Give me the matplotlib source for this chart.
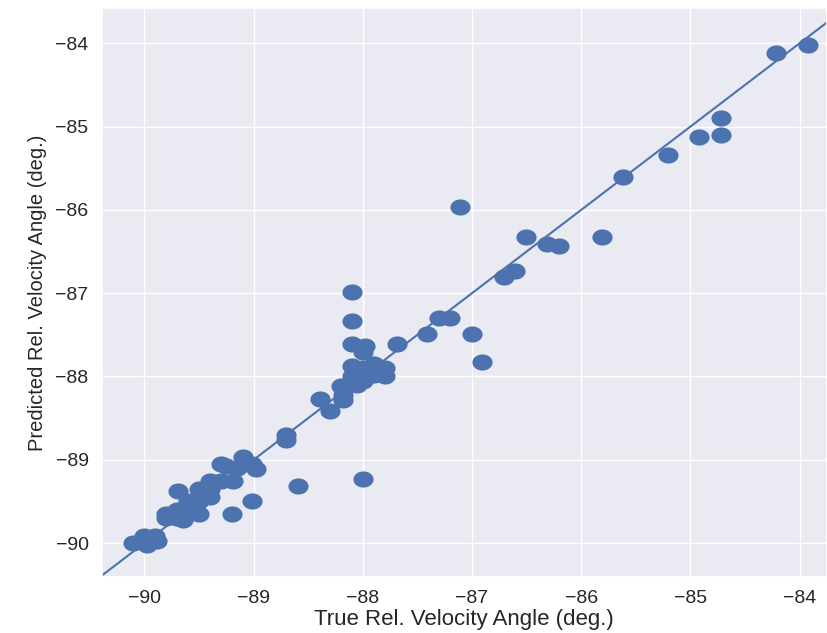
import numpy as np
import matplotlib
matplotlib.use("Agg")
import matplotlib.pyplot as plt
from matplotlib.path import Path
import seaborn as sns

# 真値と予測値 (deg.)
true_angle = [-83.92, -84.22, -84.72, -84.72, -84.92, -85.21, -85.62, -85.81, -87.11, -86.51,
              -86.31, -86.20, -86.61, -86.71, -87.30, -87.20, -87.41, -87.00, -86.91, -87.69,
              -88.10, -88.10, -88.10, -87.98, -88.00, -88.10, -88.10, -88.00, -87.90, -87.80,
              -87.80, -87.90, -88.00, -88.05, -88.20, -88.18, -88.18, -88.39, -88.30, -88.00,
              -88.70, -88.70, -88.59, -89.01, -89.20, -89.69, -89.30, -89.10, -89.10, -89.01,
              -88.98, -89.19, -89.30, -89.40, -89.40, -89.50, -89.45, -89.50, -89.60, -89.55,
              -89.60, -89.70, -89.70, -89.80, -89.80, -89.65, -89.50, -89.40, -90.10, -90.00,
              -89.98, -89.88, -89.90, -89.25, -89.15]
pred_angle = [-84.02, -84.12, -84.90, -85.10, -85.12, -85.34, -85.61, -86.33, -85.97, -86.33,
              -86.41, -86.43, -86.73, -86.80, -87.30, -87.30, -87.49, -87.49, -87.83, -87.61,
              -86.99, -87.33, -87.61, -87.63, -87.70, -87.88, -88.00, -87.90, -87.85, -87.90,
              -88.00, -87.98, -88.05, -88.10, -88.12, -88.22, -88.28, -88.27, -88.41, -89.23,
              -88.70, -88.76, -89.31, -89.50, -89.65, -89.37, -89.05, -88.97, -89.05, -89.05,
              -89.11, -89.25, -89.25, -89.25, -89.35, -89.35, -89.45, -89.50, -89.50, -89.60,
              -89.65, -89.60, -89.70, -89.70, -89.65, -89.72, -89.65, -89.45, -90.00, -89.92,
              -90.02, -89.98, -89.92, -89.08, -89.10]

xlim = (-90.39, -83.75)
ylim = (-90.41, -83.58)

sns.set_theme(style="darkgrid")
plt.rcParams['font.family'] = ['Liberation Sans', 'DejaVu Sans']

# 横長の楕円マーカー
th = np.linspace(0, 2 * np.pi, 60)
ellipse = Path(np.column_stack([np.cos(th), 0.8 * np.sin(th)]))

fig = plt.figure(figsize=(8.27, 6.33), dpi=100)
ax = fig.add_axes([0.123, 0.088, 0.877, 0.899])

ax.plot(true_angle, pred_angle, linestyle='none', marker=ellipse, markersize=14.5,
        color='#4C72B0', markeredgewidth=0)
ax.plot(xlim, xlim, color='#4C72B0', lw=1.5)

ax.set_xlim(xlim)
ax.set_ylim(ylim)
ax.set_xticks(np.arange(-90, -83, 1))
ax.set_yticks(np.arange(-90, -83, 1))
ax.tick_params(labelsize=14)
ax.set_xlabel('True Rel. Velocity Angle (deg.)', fontsize=16, labelpad=1)
ax.set_ylabel('Predicted Rel. Velocity Angle (deg.)', fontsize=14.5, labelpad=6)

fig.savefig('out.png', dpi=100)
